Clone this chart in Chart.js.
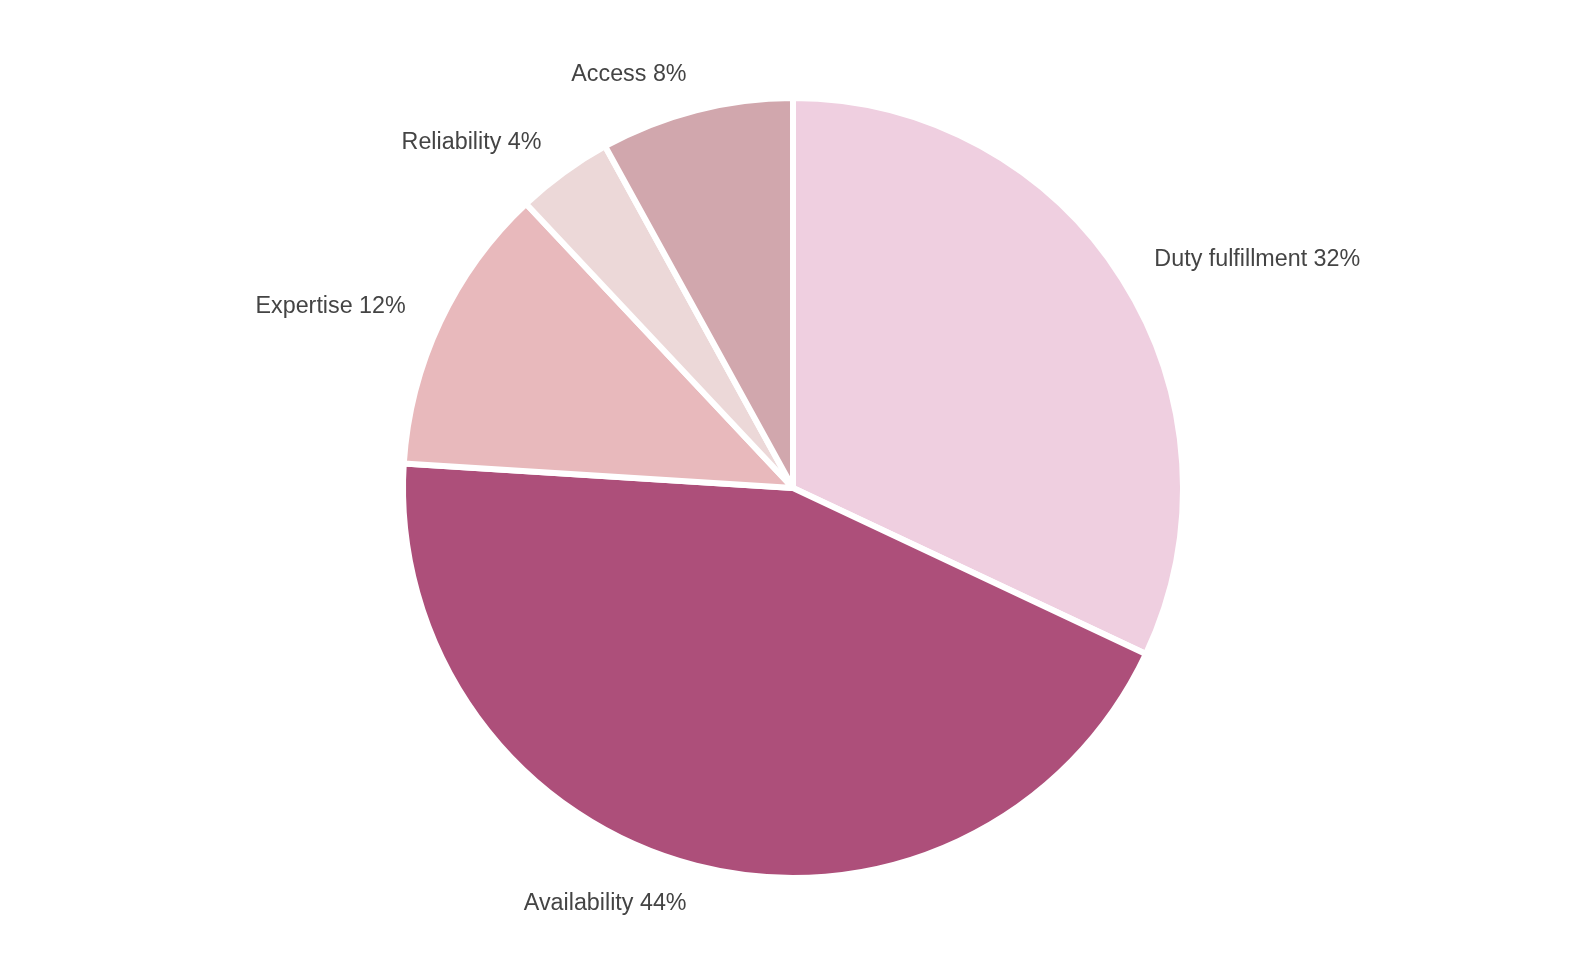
<!DOCTYPE html>
<html>
<head>
<meta charset="utf-8">
<script src="https://cdn.jsdelivr.net/npm/chart.js@4"></script>
<style>
  html, body { margin: 0; padding: 0; background: #fff; }
  #wrap { width: 1574px; height: 969px; }
</style>
</head>
<body>
<div id="wrap"><canvas id="pie"></canvas></div>
<script>
var labels = ['Duty fulfillment', 'Availability', 'Expertise', 'Reliability', 'Access'];
var shares = [32, 44, 12, 4, 8];
var colors = ['#efcfe0', '#ad4f7a', '#e8b9bc', '#ecd8d8', '#d1a7ad'];

// draw "Label NN%" outside each slice, no leader lines
var outsideLabels = {
    id: 'outsideLabels',
    afterDatasetsDraw: function (chart) {
        var ctx = chart.ctx;
        var meta = chart.getDatasetMeta(0);
        ctx.save();
        ctx.font = '23.3px "Liberation Sans", Arial, Helvetica, sans-serif';
        ctx.fillStyle = '#444';
        ctx.textBaseline = 'middle';
        meta.data.forEach(function (arc, i) {
            var mid = (arc.startAngle + arc.endAngle) / 2;
            var r = arc.outerRadius + 38;
            var x = arc.x + Math.cos(mid) * r;
            var y = arc.y + Math.sin(mid) * r + 1;
            ctx.textAlign = Math.cos(mid) >= 0 ? 'left' : 'right';
            ctx.fillText(labels[i] + ' ' + shares[i] + '%', x, y);
        });
        ctx.restore();
    }
};

var ctx = document.getElementById('pie').getContext('2d');
var chart = new Chart(ctx, {
    type: 'pie',
    data: {
        labels: labels,
        datasets: [{
            data: shares,
            backgroundColor: colors,
            borderColor: '#fff',
            borderWidth: 6
        }]
    },
    options: {
        responsive: true,
        maintainAspectRatio: false,
        animation: false,
        layout: {
            padding: { left: 400, right: 388, top: 95, bottom: 88 }
        },
        plugins: {
            legend: { display: false },
            tooltip: { enabled: false }
        }
    },
    plugins: [outsideLabels]
});
</script>
</body>
</html>
